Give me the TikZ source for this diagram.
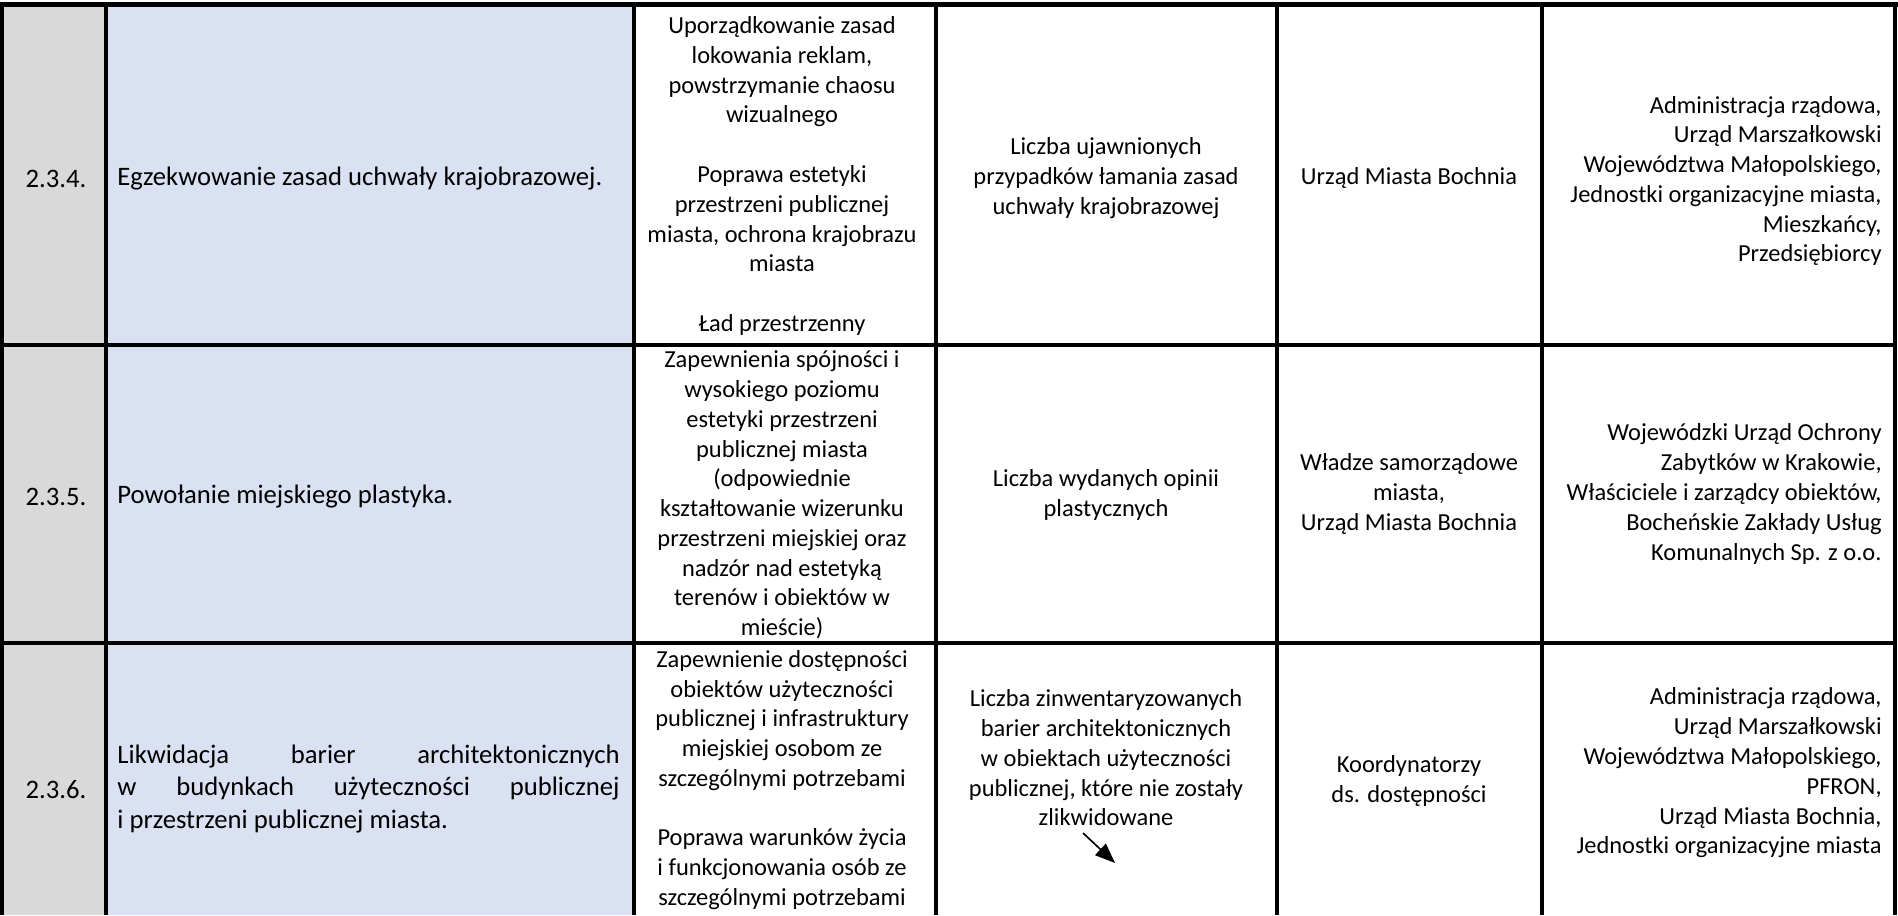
\documentclass[tikz,border=0pt]{standalone}
\usepackage{fontspec}
\setmainfont{Carlito}
\usetikzlibrary{arrows.meta}
\definecolor{graycol}{HTML}{D9D9D9}
\definecolor{bluecol}{HTML}{DAE1F2}
\tikzset{
  cell/.style={font=\fontsize{11}{13.4}\selectfont, inner sep=0pt, align=center},
  bigcell/.style={cell, font=\fontsize{12}{14.6}\selectfont},
  rcell/.style={cell, align=right, anchor=east},
  lcell/.style={bigcell, align=left, anchor=west},
  gridline/.style={line width=1.5pt, black},
  topline/.style={line width=2.2pt, black},
  pointer/.style={line width=0.75pt, -{Triangle[length=9pt,width=7pt]}},
}
\begin{document}
\begin{tikzpicture}[x=0.45pt,y=-0.45pt]
\useasboundingbox (0,0) rectangle (1898,915);
% column fills
\fill[graycol] (2,4) rectangle (106,915);
\fill[bluecol] (106,4) rectangle (634,915);
% grid
\draw[gridline] (2,915) -- (2,4);
\draw[gridline] (1895,4) -- (1895,915);
\draw[topline] (0,4.5) -- (1898,4.5);
\foreach \yy in {345,643} \draw[gridline] (2,\yy) -- (1895,\yy);
\foreach \xx in {106,634,936,1277,1542} \draw[gridline] (\xx,4) -- (\xx,915);

% Row 1
\node[bigcell] (n1) at (56,179) {2.3.4.};
\node[lcell] (t1) at (117,179) {Egzekwowanie zasad uchwały krajobrazowej.};
\node[cell] (g1) at (782,176) {Uporządkowanie zasad\\lokowania reklam,\\powstrzymanie chaosu\\wizualnego\\[13.4pt]Poprawa estetyki\\przestrzeni publicznej\\miasta, ochrona krajobrazu\\miasta\\[13.4pt]Ład przestrzenny};
\node[cell] (m1) at (1106,178) {Liczba ujawnionych\\przypadków łamania zasad\\uchwały krajobrazowej};
\node[cell] (r1) at (1409,178) {Urząd Miasta Bochnia};
\node[rcell] (p1) at (1882,181) {Administracja rządowa,\\Urząd Marszałkowski\\Województwa Małopolskiego,\\Jednostki organizacyjne miasta,\\Mieszkańcy,\\Przedsiębiorcy};

% Row 2
\node[bigcell] (n2) at (56,497) {2.3.5.};
\node[lcell] (t2) at (117,497) {Powołanie miejskiego plastyka.};
\node[cell] (g2) at (782,495) {Zapewnienia spójności i\\wysokiego poziomu\\estetyki przestrzeni\\publicznej miasta\\(odpowiednie\\kształtowanie wizerunku\\przestrzeni miejskiej oraz\\nadzór nad estetyką\\terenów i obiektów w\\mieście)};
\node[cell] (m2) at (1106,495) {Liczba wydanych opinii\\plastycznych};
\node[cell] (r2) at (1409,494) {Władze samorządowe\\miasta,\\Urząd Miasta Bochnia};
\node[rcell] (p2) at (1882,494) {Wojewódzki Urząd Ochrony\\Zabytków w Krakowie,\\Właściciele i zarządcy obiektów,\\Bocheńskie Zakłady Usług\\Komunalnych Sp. z o.o.};

% Row 3
\node[bigcell] (n3) at (56,790) {2.3.6.};
\node[lcell] (t3) at (117,789) {\makebox[226pt][s]{Likwidacja barier architektonicznych}\\\makebox[226pt][s]{w budynkach użyteczności publicznej}\\i przestrzeni publicznej miasta.};
\node[cell] (g3) at (782,780) {Zapewnienie dostępności\\obiektów użyteczności\\publicznej i infrastruktury\\miejskiej osobom ze\\szczególnymi potrzebami\\[13.4pt]Poprawa warunków życia\\i funkcjonowania osób ze\\szczególnymi potrzebami};
\node[cell] (m3) at (1106,758) {Liczba zinwentaryzowanych\\barier architektonicznych\\w obiektach użyteczności\\publicznej, które nie zostały\\zlikwidowane};
\node[cell] (r3) at (1409,781) {Koordynatorzy\\ds. dostępności};
\node[rcell] (p3) at (1882,773) {Administracja rządowa,\\Urząd Marszałkowski\\Województwa Małopolskiego,\\PFRON,\\Urząd Miasta Bochnia,\\Jednostki organizacyjne miasta};

% arrow
\coordinate (a1) at (1083,833);
\coordinate (a2) at (1115,863);
\draw[pointer] (a1) -- (a2);
\end{tikzpicture}
\end{document}
